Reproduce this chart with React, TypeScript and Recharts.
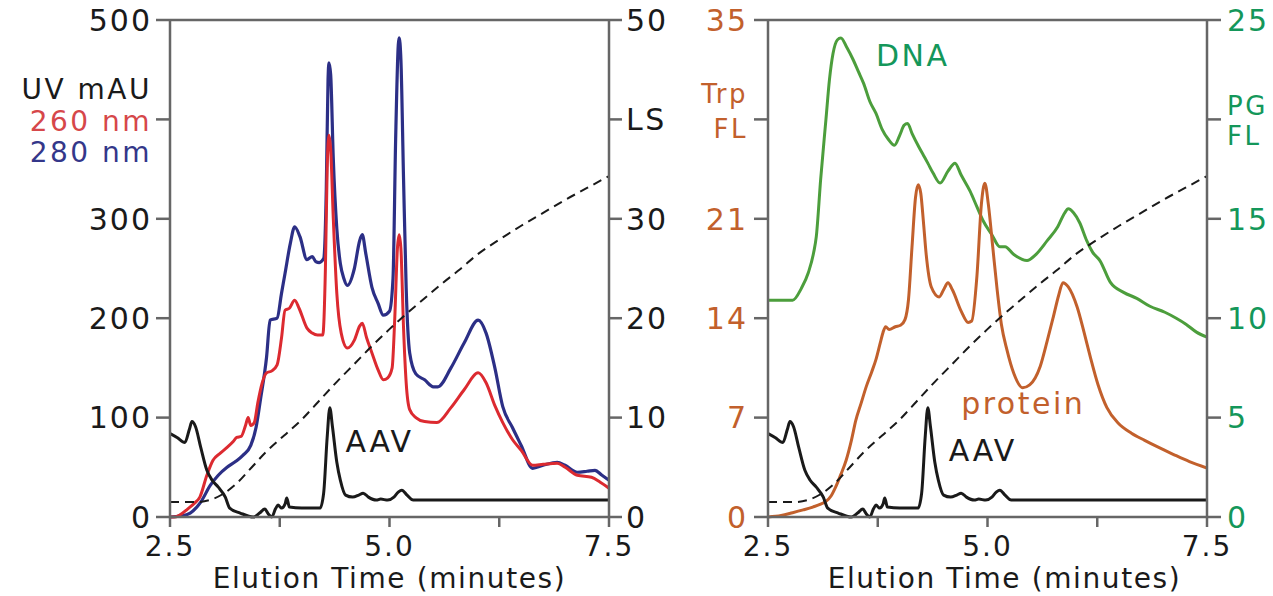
import {
  ComposedChart,
  Line,
  XAxis,
  YAxis,
  ReferenceLine,
  ReferenceDot,
} from 'recharts';

// elution time (min) / signal pairs
const uv280: [number, number][] = [
  [2.5, 0], [2.62, 1], [2.73, 4], [2.85, 15], [2.96, 32], [3.05, 42], [3.15, 50], [3.25, 56],
  [3.33, 62], [3.42, 72], [3.48, 90], [3.53, 118], [3.6, 161], [3.64, 198], [3.72, 200],
  [3.77, 225], [3.81, 245], [3.87, 275], [3.92, 292], [3.98, 282], [4.06, 259], [4.12, 262],
  [4.16, 257], [4.2, 256], [4.25, 260], [4.28, 330], [4.3, 440], [4.31, 457], [4.33, 445],
  [4.36, 360], [4.4, 290], [4.44, 255], [4.48, 240], [4.52, 233], [4.6, 250], [4.66, 278],
  [4.69, 284], [4.73, 265], [4.8, 231], [4.87, 215], [4.93, 203], [5.0, 207], [5.04, 240],
  [5.07, 380], [5.1, 475], [5.11, 482], [5.13, 460], [5.16, 340], [5.19, 230], [5.23, 165],
  [5.3, 144], [5.4, 138], [5.5, 131], [5.55, 131], [5.7, 150], [5.85, 175], [6.01, 198],
  [6.1, 185], [6.2, 150], [6.29, 111], [6.4, 90], [6.5, 72], [6.63, 49], [6.75, 52],
  [6.91, 55], [7.0, 52], [7.14, 45], [7.25, 46], [7.34, 47], [7.42, 42], [7.5, 37],
];

const uv260: [number, number][] = [
  [2.5, 0], [2.55, 0], [2.61, 2], [2.7, 8], [2.78, 14], [2.84, 20], [2.92, 42], [2.99, 57],
  [3.07, 64], [3.15, 70], [3.22, 76], [3.26, 80], [3.31, 81], [3.36, 92], [3.39, 100],
  [3.42, 92], [3.46, 95], [3.5, 115], [3.55, 135], [3.6, 145], [3.66, 147], [3.72, 153],
  [3.77, 180], [3.81, 208], [3.86, 210], [3.92, 218], [3.97, 210], [4.06, 190], [4.12, 185],
  [4.18, 183], [4.24, 183], [4.27, 250], [4.29, 350], [4.31, 384], [4.33, 370], [4.36, 300],
  [4.4, 225], [4.45, 185], [4.52, 170], [4.6, 178], [4.66, 192], [4.69, 195], [4.74, 180],
  [4.8, 165], [4.87, 148], [4.93, 138], [4.98, 140], [5.03, 150], [5.06, 200], [5.09, 270],
  [5.11, 284], [5.13, 270], [5.16, 190], [5.19, 135], [5.23, 108], [5.3, 100], [5.4, 96],
  [5.54, 95], [5.7, 110], [5.85, 128], [6.01, 145], [6.1, 135], [6.2, 112], [6.29, 95],
  [6.4, 78], [6.5, 67], [6.63, 52], [6.75, 53], [6.91, 54], [7.0, 50], [7.14, 42], [7.3, 40],
  [7.4, 35], [7.5, 29],
];

// AAV trace, in UV mAU units (0-500)
const aav: [number, number][] = [
  [2.5, 84], [2.58, 80], [2.67, 75], [2.72, 88], [2.75, 96], [2.79, 91], [2.85, 70], [2.92, 47],
  [2.98, 37], [3.05, 30], [3.13, 20], [3.18, 9], [3.3, 4], [3.45, 0], [3.52, 4], [3.58, 8],
  [3.62, 3], [3.66, 0], [3.7, 8], [3.73, 12], [3.77, 9], [3.81, 13], [3.83, 19], [3.86, 10],
  [4.0, 9], [4.21, 9], [4.25, 24], [4.29, 80], [4.32, 110], [4.35, 91], [4.4, 55], [4.44, 37],
  [4.5, 22], [4.58, 20], [4.65, 22], [4.7, 24], [4.76, 20], [4.85, 17], [4.9, 18], [4.98, 17],
  [5.05, 20], [5.1, 25], [5.14, 27], [5.2, 22], [5.27, 17], [6.0, 17], [7.5, 17],
];

// light scattering, 0-50
const ls: [number, number][] = [
  [2.5, 1.5], [2.8, 1.5], [2.95, 1.7], [3.1, 2.3], [3.25, 3.3], [3.4, 4.7], [3.6, 6.6],
  [3.8, 8.2], [4.0, 9.8], [4.2, 11.7], [4.4, 13.6], [4.6, 15.4], [4.8, 17.2], [5.0, 18.9],
  [5.2, 20.5], [5.4, 22.0], [5.6, 23.5], [5.8, 24.9], [6.0, 26.4], [6.25, 27.9], [6.5, 29.3],
  [6.75, 30.6], [7.0, 31.9], [7.25, 33.1], [7.5, 34.3],
];

// tryptophan fluorescence (protein), 0-35
const trp: [number, number][] = [
  [2.5, 0], [2.65, 0.1], [2.78, 0.3], [2.9, 0.5], [3.01, 0.7], [3.1, 0.9], [3.16, 1.1],
  [3.22, 1.5], [3.27, 2.1], [3.33, 3.0], [3.39, 4.0], [3.45, 5.4], [3.5, 6.8], [3.56, 8.0],
  [3.62, 9.2], [3.68, 10.2], [3.73, 11.1], [3.78, 12.3], [3.81, 13.0], [3.84, 13.4],
  [3.88, 13.2], [3.95, 13.4], [4.01, 13.5], [4.06, 13.9], [4.1, 15.3], [4.14, 19],
  [4.18, 22.5], [4.21, 23.4], [4.24, 22.8], [4.27, 20.8], [4.3, 18.6], [4.36, 16.2],
  [4.45, 15.5], [4.5, 16], [4.55, 16.5], [4.6, 16], [4.7, 14.5], [4.78, 13.7], [4.82, 13.8],
  [4.88, 17], [4.93, 22], [4.97, 23.5], [5.01, 22], [5.06, 19], [5.11, 16], [5.16, 13.5],
  [5.22, 11.8], [5.3, 10.1], [5.4, 9.1], [5.48, 9.3], [5.6, 10.6], [5.68, 12.4], [5.75, 14.1],
  [5.81, 15.6], [5.86, 16.5], [5.92, 16.2], [6.02, 14.8], [6.1, 13], [6.17, 11.3],
  [6.26, 9.3], [6.36, 7.7], [6.49, 6.6], [6.64, 5.9], [6.79, 5.4], [6.95, 4.9], [7.12, 4.4],
  [7.3, 3.9], [7.5, 3.45],
];

// PicoGreen fluorescence (DNA), 0-25
const pg: [number, number][] = [
  [2.5, 10.9], [2.78, 10.9], [2.88, 11.5], [2.96, 12.3], [3.02, 13.3], [3.05, 14.1], [3.1, 17],
  [3.16, 20], [3.2, 22], [3.24, 23.3], [3.29, 24], [3.33, 24.1], [3.4, 23.6], [3.47, 23],
  [3.53, 22.4], [3.59, 21.8], [3.66, 20.9], [3.73, 20.3], [3.8, 19.5], [3.87, 19], [3.94, 18.7],
  [4.0, 19.2], [4.05, 19.7], [4.09, 19.8], [4.14, 19.3], [4.22, 18.6], [4.27, 18.2],
  [4.32, 17.8], [4.38, 17.3], [4.46, 16.8], [4.55, 17.4], [4.63, 17.8], [4.7, 17.2],
  [4.8, 16.4], [4.88, 15.6], [4.95, 14.9], [5.05, 14.2], [5.14, 13.6], [5.2, 13.6], [5.3, 13.2],
  [5.45, 12.9], [5.55, 13.2], [5.68, 13.9], [5.8, 14.6], [5.88, 15.3], [5.92, 15.5],
  [5.98, 15.3], [6.05, 14.8], [6.13, 13.9], [6.2, 13.3], [6.28, 12.9], [6.4, 11.8],
  [6.55, 11.3], [6.7, 11.0], [6.85, 10.6], [7.02, 10.3], [7.15, 10.0], [7.26, 9.7],
  [7.38, 9.3], [7.5, 9.05],
];

const timeTicks = [2.5, 3.75, 5, 6.25, 7.5];
const timeLabels: Record<number, string> = { 2.5: '2.5', 5: '5.0', 7.5: '7.5' };
const uvTicks = [0, 100, 200, 300, 400, 500];
const lsTicks = [0, 10, 20, 30, 40, 50];
const trpTicks = [0, 7, 14, 21, 28, 35];
const pgTicks = [0, 5, 10, 15, 20, 25];

const pts = (arr: [number, number][]) => arr.map(([t, v]) => ({ t, v }));

const FONT = 'DejaVu Sans';
const AXIS = '#666';
const BLUE = '#2c2f86';
const RED = '#dc2a30';
const ORANGE = '#c2602c';
const GREEN_LINE = '#4c9e3c';
const GREEN_TEXT = '#14975a';
const INK = '#1a1a1a';

type Extra = Record<number, [string, string, number, number][]>;

function makeYTick(color: string, anchor: 'start' | 'end', extra: Extra) {
  return (props: any) => {
    const { x, y, payload } = props;
    const lines = extra[payload.value];
    if (lines) {
      return (
        <g>
          {lines.map(([txt, c, dy, fs], i) => (
            <text key={i} x={x} y={y + dy} fill={c} textAnchor={anchor}
              style={{ fontFamily: FONT, fontSize: fs, letterSpacing: 2.5 }}>
              {txt}
            </text>
          ))}
        </g>
      );
    }
    return (
      <text x={x} y={y} dy="0.36em" fill={color} textAnchor={anchor}
        style={{ fontFamily: FONT, fontSize: 30, letterSpacing: 2 }}>
        {payload.value}
      </text>
    );
  };
}

const xTick = (props: any) => {
  const { x, y, payload } = props;
  const s = timeLabels[payload.value];
  if (!s) return <g />;
  return (
    <text x={x} y={y} dy="0.71em" fill={INK} textAnchor="middle"
      style={{ fontFamily: FONT, fontSize: 28, letterSpacing: 2 }}>
      {s}
    </text>
  );
};

const axisLine = { stroke: AXIS, strokeWidth: 2.5 };

const noteLabel = (value: string, fill: string) => ({
  value,
  position: 'right' as const,
  offset: 0,
  fill,
  fontSize: 30,
  fontFamily: FONT,
  letterSpacing: 2.5,
});

const timeAxisProps = (dx: number) => ({
  dataKey: 't',
  type: 'number' as const,
  domain: [2.5, 7.5],
  allowDataOverflow: true,
  ticks: timeTicks,
  tick: xTick,
  tickSize: 10,
  tickMargin: 9,
  tickLine: axisLine,
  axisLine,
  height: 79,
  label: {
    value: 'Elution Time (minutes)',
    position: 'insideBottom' as const,
    offset: 8,
    dx,
    fill: INK,
    fontSize: 28,
    fontFamily: FONT,
    letterSpacing: 1.6,
  },
});

function UvPanel() {
  return (
    <ComposedChart width={680} height={596} margin={{ top: 20, right: 0, bottom: 0, left: 0 }}>
      <XAxis {...timeAxisProps(0)} />
      <YAxis
        yAxisId="uv"
        orientation="left"
        width={170}
        domain={[0, 500]}
        ticks={uvTicks}
        tickSize={14}
        tickMargin={4}
        tickLine={axisLine}
        axisLine={axisLine}
        tick={makeYTick(INK, 'end', {
          400: [
            ['UV mAU', INK, -20, 28],
            ['260 nm', '#d6474a', 12, 28],
            ['280 nm', '#34378a', 43, 28],
          ],
        })}
      />
      <YAxis
        yAxisId="ls"
        orientation="right"
        width={71}
        domain={[0, 50]}
        ticks={lsTicks}
        tickSize={13}
        tickMargin={4}
        tickLine={axisLine}
        axisLine={axisLine}
        tick={makeYTick(INK, 'start', { 40: [['LS', INK, 11, 30]] })}
      />
      <ReferenceLine yAxisId="uv" y={500} stroke={AXIS} strokeWidth={2.5} />
      <Line yAxisId="uv" data={pts(uv280)} dataKey="v" type="monotone" stroke={BLUE}
        strokeWidth={3.2} dot={false} activeDot={false} isAnimationActive={false} />
      <Line yAxisId="uv" data={pts(uv260)} dataKey="v" type="monotone" stroke={RED}
        strokeWidth={3} dot={false} activeDot={false} isAnimationActive={false} />
      <Line yAxisId="uv" data={pts(aav)} dataKey="v" type="monotone" stroke={INK}
        strokeWidth={3} dot={false} activeDot={false} isAnimationActive={false} />
      <Line yAxisId="ls" data={pts(ls)} dataKey="v" type="monotone" stroke={INK}
        strokeWidth={2} strokeDasharray="9 6" dot={false} activeDot={false} isAnimationActive={false} />
      <ReferenceDot yAxisId="uv" x={4.5} y={76} r={0} fill="none" stroke="none"
        label={noteLabel('AAV', INK)} />
    </ComposedChart>
  );
}

function FlPanel() {
  return (
    <ComposedChart width={593} height={596} margin={{ top: 20, right: 0, bottom: 0, left: 0 }}>
      <XAxis {...timeAxisProps(17)} />
      <YAxis
        yAxisId="trp"
        orientation="left"
        width={88}
        domain={[0, 35]}
        ticks={trpTicks}
        tickSize={14}
        tickMargin={6}
        tickLine={axisLine}
        axisLine={axisLine}
        tick={makeYTick(ORANGE, 'end', {
          28: [
            ['Trp', ORANGE, -16, 26],
            ['FL', ORANGE, 19, 26],
          ],
        })}
      />
      <YAxis
        yAxisId="pg"
        orientation="right"
        width={66}
        domain={[0, 25]}
        ticks={pgTicks}
        tickSize={14}
        tickMargin={6}
        tickLine={axisLine}
        axisLine={axisLine}
        tick={makeYTick(GREEN_TEXT, 'start', {
          20: [
            ['PG', GREEN_TEXT, -4, 26],
            ['FL', GREEN_TEXT, 26, 26],
          ],
        })}
      />
      <YAxis yAxisId="aav" hide orientation="right" width={0} domain={[0, 500]} />
      <YAxis yAxisId="ls" hide orientation="right" width={0} domain={[0, 50]} />
      <ReferenceLine yAxisId="trp" y={35} stroke={AXIS} strokeWidth={2.5} />
      <Line yAxisId="pg" data={pts(pg)} dataKey="v" type="monotone" stroke={GREEN_LINE}
        strokeWidth={3} dot={false} activeDot={false} isAnimationActive={false} />
      <Line yAxisId="trp" data={pts(trp)} dataKey="v" type="monotone" stroke={ORANGE}
        strokeWidth={3} dot={false} activeDot={false} isAnimationActive={false} />
      <Line yAxisId="aav" data={pts(aav)} dataKey="v" type="monotone" stroke={INK}
        strokeWidth={3} dot={false} activeDot={false} isAnimationActive={false} />
      <Line yAxisId="ls" data={pts(ls)} dataKey="v" type="monotone" stroke={INK}
        strokeWidth={2} strokeDasharray="9 6" dot={false} activeDot={false} isAnimationActive={false} />
      <ReferenceDot yAxisId="pg" x={3.73} y={23.2} r={0} fill="none" stroke="none"
        label={noteLabel('DNA', GREEN_TEXT)} />
      <ReferenceDot yAxisId="trp" x={4.7} y={8.0} r={0} fill="none" stroke="none"
        label={noteLabel('protein', ORANGE)} />
      <ReferenceDot yAxisId="trp" x={4.56} y={4.7} r={0} fill="none" stroke="none"
        label={noteLabel('AAV', INK)} />
    </ComposedChart>
  );
}

export default function App() {
  return (
    <div style={{ position: 'absolute', left: 0, top: 0, width: 1273, height: 596, background: '#fff' }}>
      <div style={{ position: 'absolute', left: 0, top: 0 }}>
        <UvPanel />
      </div>
      <div style={{ position: 'absolute', left: 680, top: 0 }}>
        <FlPanel />
      </div>
    </div>
  );
}
